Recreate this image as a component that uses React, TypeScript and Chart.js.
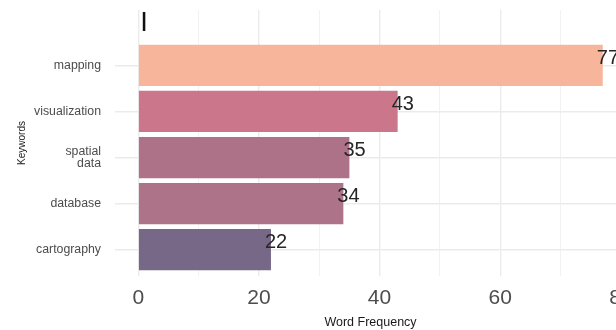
import React, { useEffect, useRef } from "react";
import { Chart, registerables } from "chart.js";

Chart.register(...registerables);

const categories = ["mapping", "visualization", "spatial\ndata", "database", "cartography"];
const frequencies = [77, 43, 35, 34, 22];
const barColors = ["#F7B69B", "#CC768B", "#AE7288", "#AD7389", "#766886"];
const xTickValues = [0, 10, 20, 30, 40, 50, 60, 70, 80];
const xTickLabels = ["0", "", "20", "", "40", "", "60", "", "80"];
const markerText = "|";

const FONT = "'Liberation Sans', Arial, Helvetica, sans-serif";

export default function App() {
  const canvasRef = useRef<HTMLCanvasElement | null>(null);

  useEffect(() => {
    const canvas = canvasRef.current;
    if (!canvas) return;
    const n = categories.length;
    const positions = categories.map((_, i) => n - i);
    const data = frequencies.map((v, i) => ({ x: v, y: positions[i] }));

    const valueLabels = {
      id: "valueLabels",
      afterDatasetsDraw(chart: any) {
        const { ctx, scales } = chart;
        const xs = scales.x;
        const ys = scales.y;
        ctx.save();
        ctx.font = `20px ${FONT}`;
        ctx.fillStyle = "#262626";
        ctx.textAlign = "left";
        ctx.textBaseline = "middle";
        frequencies.forEach((v, i) => {
          const px = xs.getPixelForValue(v);
          const py = ys.getPixelForValue(positions[i]);
          ctx.fillText(String(v), px - 6, py - 7);
        });
        ctx.font = `bold 20px ${FONT}`;
        ctx.fillStyle = "#111111";
        ctx.textBaseline = "middle";
        ctx.fillText(markerText, xs.getPixelForValue(0) + 3, chart.chartArea.top + 11);
        ctx.restore();
      },
    };

    const chart = new Chart(canvas, {
      type: "bar",
      data: {
        datasets: [
          {
            data: data as any,
            backgroundColor: barColors,
            borderWidth: 0,
            categoryPercentage: 1,
            barPercentage: 0.895,
          },
        ],
      },
      options: {
        indexAxis: "y",
        animation: false,
        responsive: false,
        maintainAspectRatio: false,
        layout: { padding: { top: 10, right: 14, left: 0, bottom: 0 } },
        plugins: {
          legend: { display: false },
          tooltip: { enabled: false },
          title: { display: false },
        },
        scales: {
          x: {
            type: "linear",
            min: -3.85,
            max: 80.85,
            offset: false,
            afterBuildTicks: (scale: any) => {
              scale.ticks = xTickValues.map((v) => ({ value: v }));
            },
            afterFit: (scale: any) => {
              scale.height = 54;
              scale.paddingLeft = 0;
              scale.paddingRight = 0;
            },
            ticks: {
              autoSkip: false,
              maxRotation: 0,
              padding: 10,
              color: "#4D4D4D",
              font: { family: FONT, size: 21 },
              callback: (value: any) => {
                const idx = xTickValues.indexOf(Number(value));
                return idx >= 0 ? xTickLabels[idx] : "";
              },
            },
            grid: {
              offset: false,
              drawTicks: false,
              color: (ctx: any) => (ctx.tick && ctx.tick.value % 20 === 0 ? "#EBEBEB" : "#F0F0F0"),
              lineWidth: (ctx: any) => (ctx.tick && ctx.tick.value % 20 === 0 ? 1.4 : 0.9),
            },
            border: { display: false },
            title: {
              display: true,
              text: "Word Frequency",
              color: "#1A1A1A",
              font: { family: FONT, size: 12.5 },
              padding: { top: 0, bottom: 0 },
            },
          },
          y: {
            type: "linear",
            min: 0.43,
            max: 6.2,
            offset: false,
            afterBuildTicks: (scale: any) => {
              scale.ticks = positions.map((p) => ({ value: p }));
            },
            afterFit: (scale: any) => {
              scale.width = 115;
              scale.paddingTop = 0;
              scale.paddingBottom = 0;
            },
            ticks: {
              autoSkip: false,
              padding: 14,
              color: "#4D4D4D",
              font: { family: FONT, size: 12.3, lineHeight: 0.97 },
              callback: (value: any) => {
                const idx = positions.indexOf(Number(value));
                if (idx < 0) return "";
                const lbl = categories[idx];
                return lbl.includes("\n") ? lbl.split("\n") : lbl;
              },
            },
            grid: {
              offset: false,
              drawTicks: false,
              color: "#EBEBEB",
              lineWidth: 1.4,
            },
            border: { display: false },
            title: {
              display: true,
              text: "Keywords",
              color: "#1A1A1A",
              font: { family: FONT, size: 10 },
              padding: { top: 16, bottom: 0 },
            },
          },
        },
      },
      plugins: [valueLabels],
    });

    return () => {
      chart.destroy();
    };
  }, []);

  return (
    <div
      style={{
        position: "fixed",
        left: 0,
        top: 0,
        width: 616,
        height: 330,
        overflow: "hidden",
        background: "#FFFFFF",
      }}
    >
      <canvas ref={canvasRef} width={640} height={330} style={{ display: "block", width: 640, height: 330 }} />
    </div>
  );
}
